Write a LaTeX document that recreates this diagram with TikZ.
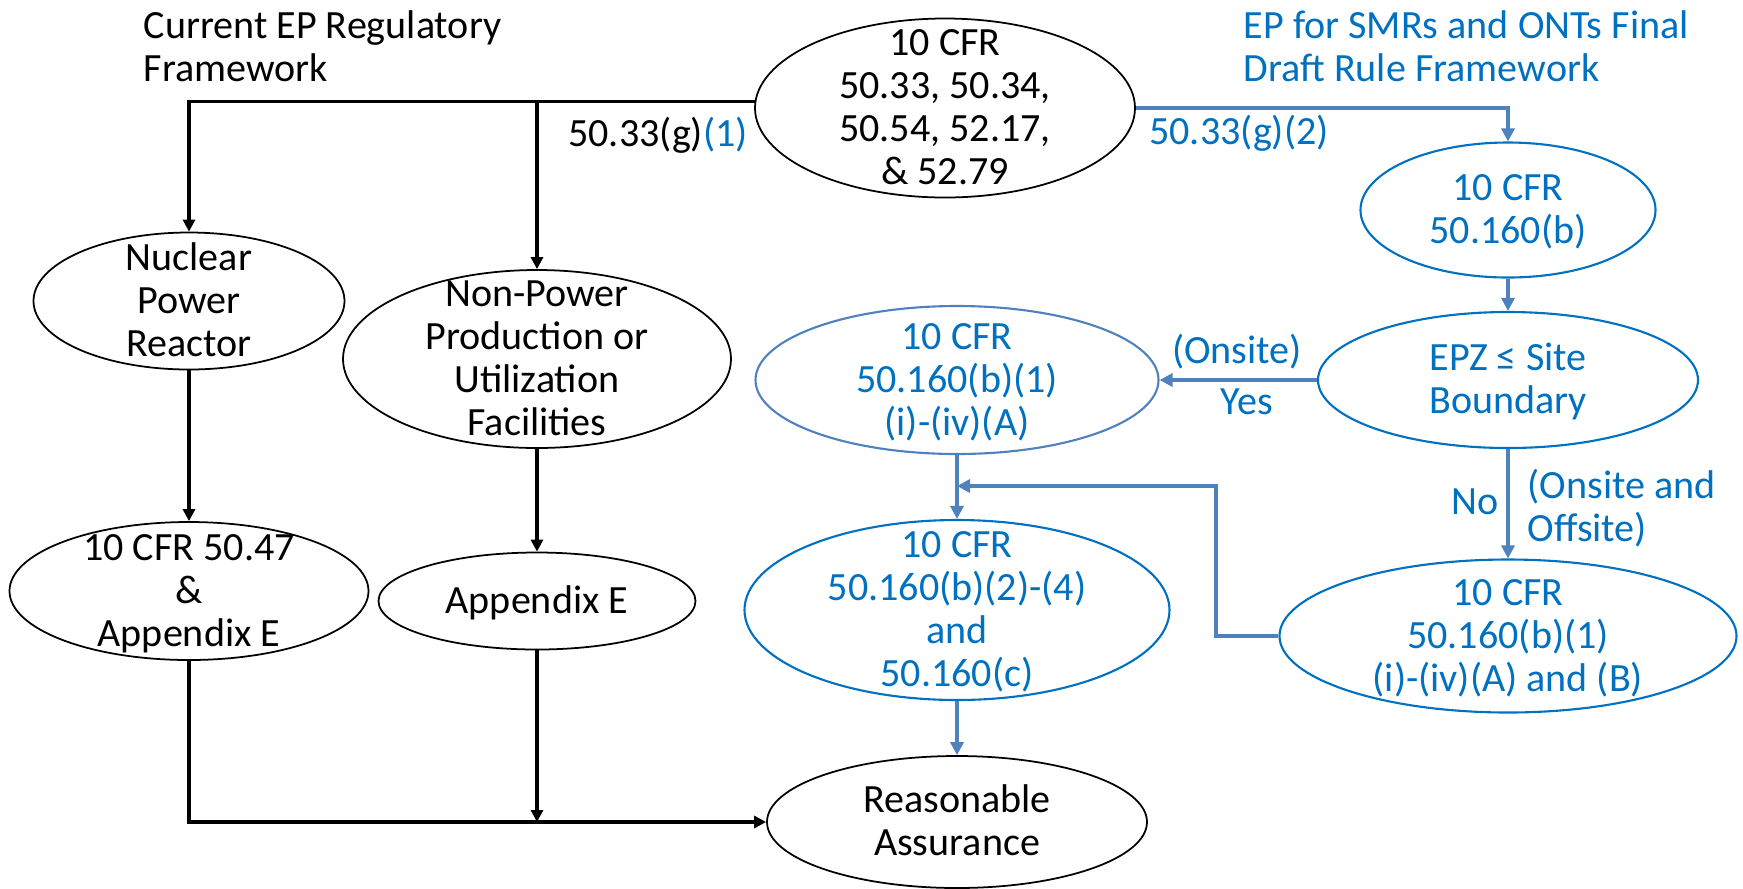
\documentclass[tikz,border=0pt]{standalone}
\usepackage{fontspec}
\setmainfont{Carlito}
\usepackage{tikz}
\usetikzlibrary{shapes.geometric,arrows.meta,positioning}

\definecolor{epblue}{RGB}{0,112,192}
\definecolor{flowblue}{RGB}{79,129,189}

\newcommand{\ovtext}[1]{\raisebox{-0.33em}[0pt][0pt]{\begin{tabular}{@{}c@{}}#1\end{tabular}}}

\begin{document}
\begin{tikzpicture}[
    txt/.style={font=\fontsize{11.4}{12.2}\selectfont, inner sep=0pt},
    oval/.style={txt, ellipse, draw, line width=0.5pt},
    blueoval/.style={oval, draw=epblue, text=epblue, line width=0.6pt},
    rule/.style={line width=0.95pt, -{Triangle[length=1.2mm,width=1.2mm]}},
    flow/.style={draw=flowblue, color=flowblue, line width=1.1pt, -{Triangle[length=1.3mm,width=1.3mm]}}]
  \useasboundingbox (0,0) rectangle (17.43,-8.88);

  % titles
  \node[txt, align=left, anchor=west] (curtitle) at (1.43,-0.46) {Current EP Regulatory\\Framework};
  \node[txt, align=left, anchor=west, text=epblue] (newtitle) at (12.43,-0.46) {EP for SMRs and ONTs Final\\Draft Rule Framework};

  % current framework
  \node[oval, minimum width=3.8cm, minimum height=1.79cm] (cfr) at (9.45,-1.08) {\ovtext{10 CFR\\50.33, 50.34,\\50.54, 52.17,\\\& 52.79}};
  \node[oval, minimum width=3.11cm, minimum height=1.37cm] (npr) at (1.89,-3.01) {\ovtext{Nuclear\\Power\\Reactor}};
  \node[oval, minimum width=3.88cm, minimum height=1.78cm] (nppu) at (5.37,-3.59) {\ovtext{Non-Power\\Production or\\Utilization\\Facilities}};
  \node[oval, minimum width=3.59cm, minimum height=1.38cm] (cfr47) at (1.89,-5.91) {\ovtext{10 CFR 50.47\\\&\\Appendix E}};
  \node[oval, minimum width=3.17cm, minimum height=0.97cm] (appe) at (5.37,-6.01) {\ovtext{Appendix E}};
  \node[oval, minimum width=3.8cm, minimum height=1.32cm] (assur) at (9.57,-8.22) {\ovtext{Reasonable\\Assurance}};

  \node[txt] (g1) at (6.58,-1.35) {50.33(g)\textcolor{epblue}{(1)}};

  \draw[rule] (cfr.178) -| (npr);
  \draw[rule] (cfr.178 -| nppu) -- (nppu);
  \draw[rule] (npr) -- (cfr47);
  \draw[rule] (nppu) -- (appe);
  \draw[rule] (cfr47) |- (assur);
  \draw[rule] (appe) -- (appe |- assur);

  % draft rule framework
  \node[blueoval, minimum width=2.95cm, minimum height=1.35cm] (cfr160) at (15.08,-2.10) {\ovtext{10 CFR\\50.160(b)}};
  \node[blueoval, minimum width=3.8cm, minimum height=1.36cm] (epz) at (15.08,-3.80) {\ovtext{EPZ ≤ Site\\Boundary}};
  \node[blueoval, draw=flowblue, minimum width=4.03cm, minimum height=1.48cm] (onsite) at (9.57,-3.80) {\ovtext{10 CFR\\50.160(b)(1)\\(i)-(iv)(A)}};
  \node[blueoval, minimum width=4.25cm, minimum height=1.8cm] (common) at (9.57,-6.10) {\ovtext{10 CFR\\50.160(b)(2)-(4)\\and\\50.160(c)}};
  \node[blueoval, minimum width=4.57cm, minimum height=1.53cm] (offsite) at (15.08,-6.36) {\ovtext{10 CFR\\50.160(b)(1)\\(i)-(iv)(A) and (B)}};

  \node[txt, text=epblue] (g2) at (12.39,-1.33) {50.33(g)(2)};
  \node[txt, text=epblue] (yes1) at (12.37,-3.52) {(Onsite)};
  \node[txt, text=epblue] (yes2) at (12.47,-4.02) {Yes};
  \node[txt, text=epblue] (no1) at (14.75,-5.02) {No};
  \node[txt, text=epblue, align=left, anchor=west] (no2) at (15.27,-5.08) {(Onsite and\\Offsite)};

  \coordinate (bend) at (12.16,-4.86);

  \draw[flow] (cfr.east) -| (cfr160);
  \draw[flow] (cfr160) -- (epz);
  \draw[flow] (epz) -- (onsite);
  \draw[flow] (epz) -- (offsite);
  \draw[flow] (onsite) -- (common);
  \draw[flow] (offsite.west) -| (bend) -- (onsite |- bend);
  \draw[flow] (common) -- (assur);
\end{tikzpicture}
\end{document}
